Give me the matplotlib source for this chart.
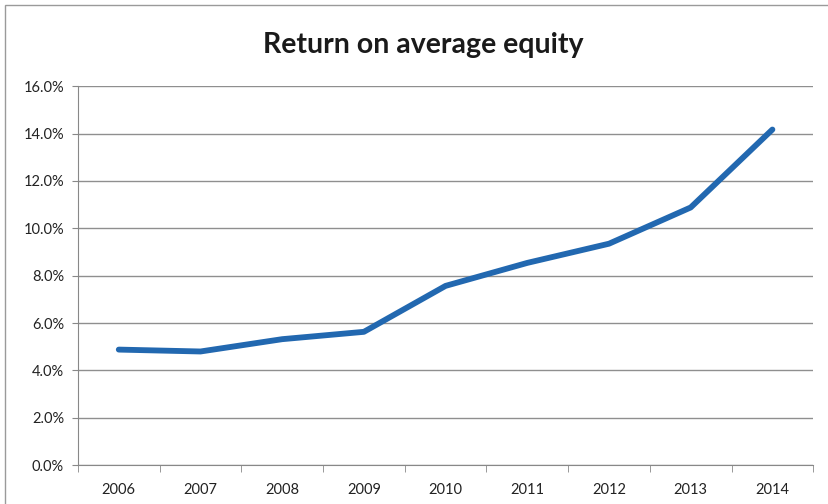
import matplotlib
matplotlib.use("Agg")
import matplotlib.pyplot as plt
from matplotlib.patches import Rectangle
from matplotlib.ticker import FixedLocator, FuncFormatter

years = ["2006", "2007", "2008", "2009", "2010", "2011", "2012", "2013", "2014"]
roe = [4.88, 4.8, 5.32, 5.63, 7.57, 8.54, 9.35, 10.88, 14.17]
yticks = [0, 2, 4, 6, 8, 10, 12, 14, 16]
title = "Return on average equity"

plt.rcParams['font.family'] = ['Lato', 'DejaVu Sans']

fig = plt.figure(figsize=(8.29, 5.04), dpi=100)
fig.patches.append(Rectangle((0.006, -0.01), 1.2, 1.0, transform=fig.transFigure,
                             fill=False, edgecolor='#9a9a9a', linewidth=1.0))
ax = fig.add_axes([0.094, 0.077, 0.887, 0.752])

x = list(range(len(years)))
ax.plot(x, roe, color='#2268b0', linewidth=4.2, solid_capstyle='round', solid_joinstyle='round', zorder=3)

ax.set_xlim(-0.5, len(years) - 0.5)
ax.set_ylim(0, 16)
ax.set_yticks(yticks)
ax.yaxis.set_major_formatter(FuncFormatter(lambda v, p: f"{v:.1f}%"))
ax.set_xticks(x)
ax.set_xticklabels(years)
ax.xaxis.set_minor_locator(FixedLocator([i - 0.5 for i in range(len(years) + 1)]))
ax.tick_params(axis='x', which='major', length=0, pad=13, labelsize=10.5, colors='#222222')
ax.tick_params(axis='x', which='minor', length=5, color='#888888', direction='out')
ax.tick_params(axis='y', length=4, color='#888888', labelsize=10.5, labelcolor='#222222', pad=6)

ax.grid(axis='y', color='#8f8f8f', linewidth=1.0)
ax.set_axisbelow(True)
for s in ['top', 'right']:
    ax.spines[s].set_visible(False)
ax.spines['left'].set_color('#888888')
ax.spines['bottom'].set_color('#888888')

fig.text(0.51, 0.91, title, ha='center', va='center', fontsize=20.5, fontweight='bold', color='#1a1a1a')

fig.savefig("out.png", dpi=100)
